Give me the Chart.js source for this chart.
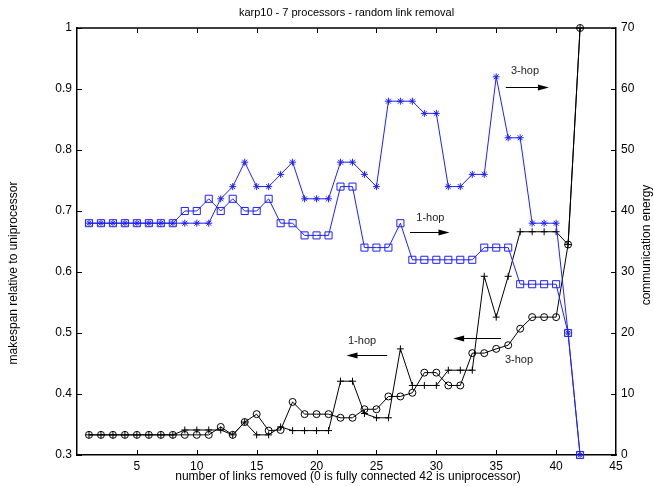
<!DOCTYPE html>
<html lang="en">
<head>
    <meta charset="UTF-8">
    <title>karp10 - 7 processors - random link removal</title>
    <script src="https://cdn.jsdelivr.net/npm/chart.js"></script>
    <style>
        html, body { margin: 0; padding: 0; background: #fff; }
        #caixa { width: 654px; height: 486px; }
    </style>
</head>
<body>
<div id="caixa"><canvas id="grafico" width="654" height="486"></canvas></div>

<script>
    // numero de links removidos (eixo x)
    var links = [1, 2, 3, 4, 5, 6, 7, 8, 9, 10, 11, 12, 13, 14, 15, 16, 17, 18, 19, 20, 21,
        22, 23, 24, 25, 26, 27, 28, 29, 30, 31, 32, 33, 34, 35, 36, 37, 38, 39, 40, 41, 42];

    // makespan relativo ao uniprocessador (eixo esquerdo)
    var makespan1hop = [0.333, 0.333, 0.333, 0.333, 0.333, 0.333, 0.333, 0.333, 0.341, 0.341, 0.341,
        0.341, 0.333, 0.354, 0.333, 0.333, 0.346, 0.340, 0.340, 0.340, 0.340, 0.421, 0.421, 0.368,
        0.361, 0.361, 0.474, 0.414, 0.414, 0.414, 0.439, 0.439, 0.439, 0.593, 0.526, 0.593, 0.666,
        0.666, 0.666, 0.666, 0.645, 1.0];
    var makespan3hop = [0.333, 0.333, 0.333, 0.333, 0.333, 0.333, 0.333, 0.333, 0.333, 0.333, 0.333,
        0.346, 0.333, 0.354, 0.367, 0.340, 0.341, 0.387, 0.367, 0.367, 0.367, 0.361, 0.361, 0.375,
        0.375, 0.396, 0.396, 0.402, 0.435, 0.435, 0.414, 0.414, 0.467, 0.467, 0.474, 0.480, 0.507,
        0.526, 0.526, 0.526, 0.645, 1.0];

    // energia de comunicacao (eixo direito)
    var energia1hop = [38, 38, 38, 38, 38, 38, 38, 38, 40, 40, 42, 40, 42, 40, 40, 42, 38, 38, 36, 36, 36,
        44, 44, 34, 34, 34, 38, 32, 32, 32, 32, 32, 32, 34, 34, 34, 28, 28, 28, 28, 20, 0];
    var energia3hop = [38, 38, 38, 38, 38, 38, 38, 38, 38, 38, 38, 42, 44, 48, 44, 44, 46, 48, 42, 42, 42,
        48, 48, 46, 44, 58, 58, 58, 56, 56, 44, 44, 46, 46, 62, 52, 52, 38, 38, 38, 20, 0];

    // ticks
    var ticksX = [0, 5, 10, 15, 20, 25, 30, 35, 40, 45];
    var ticksEsq = [0.3, 0.4, 0.5, 0.6, 0.7, 0.8, 0.9, 1];
    var ticksDir = [0, 10, 20, 30, 40, 50, 60, 70];

    // anotacoes (unidades do eixo x e do eixo esquerdo)
    var anotTexto = ['3-hop', '1-hop', '1-hop', '3-hop'];
    var anotX = [37.4, 29.5, 23.8, 36.9];
    var anotY = [0.930, 0.688, 0.487, 0.456];
    var setaX1 = [35.8, 27.8, 25.9, 35.4];
    var setaX2 = [39.4, 31.1, 22.5, 31.4];
    var setaY = [0.904, 0.665, 0.464, 0.492];

    var fonte = "'Liberation Sans', Arial, sans-serif";
    Chart.defaults.font.family = fonte;
    Chart.defaults.font.size = 12;
    Chart.defaults.color = '#000';

    function pontos(valores) {
        var lista = [];
        for (var i = 0; i < links.length; i++) {
            lista.push({ x: links[i], y: valores[i] });
        }
        return lista;
    }

    // desenha moldura, ticks internos, titulos e setas
    var extras = {
        id: 'extras',
        afterDraw: function (chart) {
            var ctx = chart.ctx;
            var a = chart.chartArea;
            var sx = chart.scales.x, sy = chart.scales.y, sy2 = chart.scales.y2;

            ctx.save();
            ctx.strokeStyle = '#000';
            ctx.lineWidth = 1.5;
            ctx.beginPath();
            ctx.moveTo(a.left, a.top);
            ctx.lineTo(a.right, a.top);
            ctx.stroke();

            ctx.lineWidth = 1;
            ctx.beginPath();
            ticksX.forEach(function (v) {
                if (v == 0 || v == 45) return;
                var px = Math.round(sx.getPixelForValue(v)) + 0.5;
                ctx.moveTo(px, a.bottom); ctx.lineTo(px, a.bottom - 5);
                ctx.moveTo(px, a.top); ctx.lineTo(px, a.top + 5);
            });
            ticksEsq.forEach(function (v) {
                var py = Math.round(sy.getPixelForValue(v)) + 0.5;
                ctx.moveTo(a.left, py); ctx.lineTo(a.left + 5, py);
            });
            ticksDir.forEach(function (v) {
                var py = Math.round(sy2.getPixelForValue(v)) + 0.5;
                ctx.moveTo(a.right, py); ctx.lineTo(a.right - 5, py);
            });
            ctx.stroke();

            // titulos
            ctx.fillStyle = '#000';
            ctx.textAlign = 'center';
            ctx.textBaseline = 'middle';
            ctx.font = '11px ' + fonte;
            ctx.fillText('karp10 - 7 processors - random link removal', (a.left + a.right) / 2, 13);
            ctx.font = '12px ' + fonte;
            ctx.fillText('number of links removed (0 is fully connected 42 is uniprocessor)', 348, 477);

            ctx.save();
            ctx.translate(14, 273);
            ctx.rotate(-Math.PI / 2);
            ctx.fillText('makespan relative to uniprocessor', 0, 0);
            ctx.restore();

            ctx.save();
            ctx.translate(647, 245);
            ctx.rotate(-Math.PI / 2);
            ctx.fillText('communication energy', 0, 0);
            ctx.restore();

            // anotacoes e setas
            ctx.font = '11px ' + fonte;
            for (var i = 0; i < anotTexto.length; i++) {
                ctx.fillStyle = '#222';
                ctx.fillText(anotTexto[i], sx.getPixelForValue(anotX[i]), sy.getPixelForValue(anotY[i]));

                var x1 = sx.getPixelForValue(setaX1[i]);
                var x2 = sx.getPixelForValue(setaX2[i]);
                var y = Math.round(sy.getPixelForValue(setaY[i])) + 0.5;
                var dir = x2 > x1 ? 1 : -1;
                ctx.strokeStyle = '#000';
                ctx.fillStyle = '#000';
                ctx.beginPath();
                ctx.moveTo(x1, y);
                ctx.lineTo(x2 - dir * 8, y);
                ctx.stroke();
                ctx.beginPath();
                ctx.moveTo(x2, y);
                ctx.lineTo(x2 - dir * 11, y - 3);
                ctx.lineTo(x2 - dir * 11, y + 3);
                ctx.closePath();
                ctx.fill();
            }
            ctx.restore();
        }
    };

    var dados = {
        datasets: [
            {
                label: 'energia 3-hop',
                data: pontos(energia3hop),
                yAxisID: 'y2',
                borderColor: '#1f1fff',
                backgroundColor: '#1f1fff',
                pointStyle: 'star',
                pointRadius: 3.5,
                pointBorderWidth: 1,
                borderWidth: 1,
                clip: false
            },
            {
                label: 'energia 1-hop',
                data: pontos(energia1hop),
                yAxisID: 'y2',
                borderColor: '#1f1fff',
                backgroundColor: 'rgba(0,0,0,0)',
                pointStyle: 'rect',
                pointRadius: 5,
                pointBorderWidth: 1,
                borderWidth: 1,
                clip: false
            },
            {
                label: 'makespan 1-hop',
                data: pontos(makespan1hop),
                yAxisID: 'y',
                borderColor: '#000',
                backgroundColor: '#000',
                pointStyle: 'cross',
                pointRadius: 3.5,
                pointBorderWidth: 1,
                borderWidth: 1,
                clip: false
            },
            {
                label: 'makespan 3-hop',
                data: pontos(makespan3hop),
                yAxisID: 'y',
                borderColor: '#000',
                backgroundColor: 'rgba(0,0,0,0)',
                pointStyle: 'circle',
                pointRadius: 3.5,
                pointBorderWidth: 1,
                borderWidth: 1,
                clip: false
            }
        ]
    };

    var semGrade = { display: false, drawTicks: false, tickLength: 0 };

    const config = {
        type: 'line',
        data: dados,
        plugins: [extras],
        options: {
            responsive: false,
            animation: false,
            devicePixelRatio: 1,
            layout: { padding: { top: 28, left: 0, right: 0, bottom: 0 } },
            plugins: {
                legend: { display: false },
                tooltip: { enabled: false },
                title: { display: false }
            },
            scales: {
                x: {
                    type: 'linear',
                    min: 0,
                    max: 45,
                    afterFit: function (s) { s.height = 31; },
                    afterBuildTicks: function (s) { s.ticks = ticksX.map(function (v) { return { value: v }; }); },
                    grid: semGrade,
                    border: { display: true, color: '#000', width: 1.5 },
                    ticks: {
                        padding: 4,
                        maxRotation: 0,
                        autoSkip: false,
                        callback: function (v) { return v == 0 ? '' : String(v); }
                    }
                },
                y: {
                    position: 'left',
                    min: 0.3,
                    max: 1,
                    afterFit: function (s) { s.width = 77; },
                    afterBuildTicks: function (s) { s.ticks = ticksEsq.map(function (v) { return { value: v }; }); },
                    grid: semGrade,
                    border: { display: true, color: '#000', width: 1.5 },
                    ticks: {
                        padding: 5,
                        autoSkip: false,
                        callback: function (v) { return v == 1 ? '1' : v.toFixed(1); }
                    }
                },
                y2: {
                    position: 'right',
                    min: 0,
                    max: 70,
                    afterFit: function (s) { s.width = 38; },
                    afterBuildTicks: function (s) { s.ticks = ticksDir.map(function (v) { return { value: v }; }); },
                    grid: semGrade,
                    border: { display: true, color: '#000', width: 1.5 },
                    ticks: {
                        padding: 5,
                        autoSkip: false,
                        callback: function (v) { return String(v); }
                    }
                }
            }
        }
    };

    let meuGrafico = new Chart(document.getElementById('grafico'), config);
</script>
</body>
</html>
